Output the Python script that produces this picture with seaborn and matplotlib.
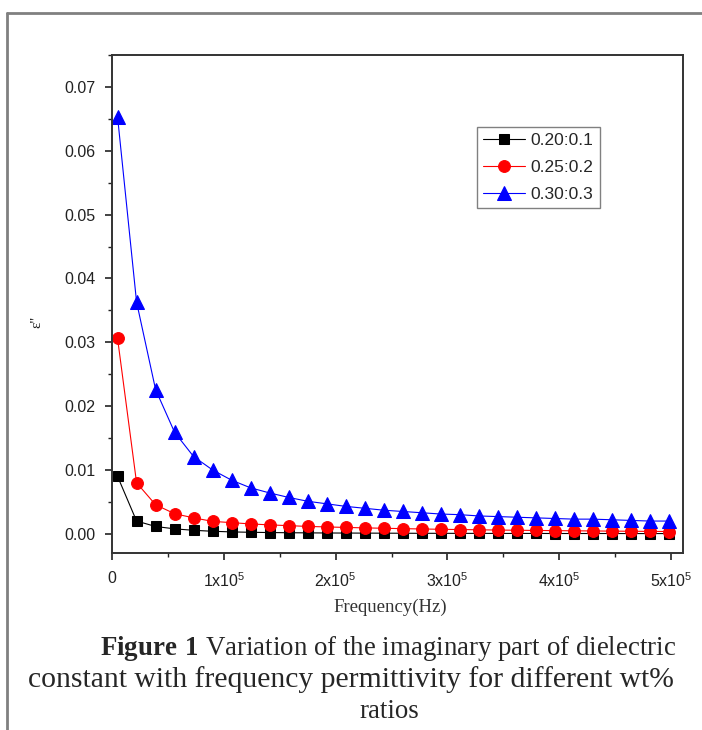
import pandas as pd
import matplotlib.pyplot as plt
import seaborn as sns
from matplotlib.lines import Line2D
from matplotlib.ticker import MultipleLocator

sns.set_style("ticks")
plt.rcParams['font.family'] = ['Liberation Sans', 'DejaVu Sans']
plt.rcParams['mathtext.fontset'] = 'custom'
plt.rcParams['mathtext.rm'] = 'Liberation Sans'
plt.rcParams['mathtext.bf'] = 'Liberation Serif:bold'

# 数据
freq = [5000, 22000, 39000, 56000, 73000, 90000, 107000, 124000, 141000, 158000,
        175000, 192000, 209000, 226000, 243000, 260000, 277000, 294000, 311000, 328000,
        345000, 362000, 379000, 396000, 413000, 430000, 447000, 464000, 481000, 498000]
eps_020 = [0.0090, 0.0020, 0.00115, 0.00078, 0.00055, 0.00040, 0.00030, 0.00024, 0.00020, 0.00017,
           0.00015, 0.00013, 0.00012, 0.00011, 0.00010, 0.00009, 0.00008, 0.00008, 0.00007, 0.00007,
           0.00006, 0.00006, 0.00006, 0.00005, 0.00005, 0.00005, 0.00005, 0.00004, 0.00004, 0.00004]
eps_025 = [0.0306, 0.0080, 0.00455, 0.00315, 0.00250, 0.00195, 0.00175, 0.00155, 0.00140, 0.00128,
           0.00116, 0.00108, 0.00100, 0.00093, 0.00087, 0.00081, 0.00076, 0.00071, 0.00067, 0.00063,
           0.00059, 0.00056, 0.00053, 0.00050, 0.00047, 0.00045, 0.00042, 0.00040, 0.00038, 0.00036]
eps_030 = [0.0653, 0.0363, 0.0226, 0.0159, 0.0121, 0.0100, 0.0084, 0.0072, 0.0064, 0.0057,
           0.0051, 0.0047, 0.0043, 0.0040, 0.0037, 0.0035, 0.0033, 0.0031, 0.0030, 0.0028,
           0.0027, 0.0026, 0.0025, 0.0024, 0.0023, 0.0023, 0.0022, 0.0021, 0.0020, 0.0020]
series_names = ['0.20:0.1', '0.25:0.2', '0.30:0.3']
x_ticks = [0, 100000, 200000, 300000, 400000, 500000]
x_tick_labels = ['0', '1x10$^{5}$', '2x10$^{5}$', '3x10$^{5}$', '4x10$^{5}$', '5x10$^{5}$']
y_ticks = [0.00, 0.01, 0.02, 0.03, 0.04, 0.05, 0.06, 0.07]
y_tick_labels = ['0.00', '0.01', '0.02', '0.03', '0.04', '0.05', '0.06', '0.07']

fig = plt.figure(figsize=(7.02, 7.30), dpi=100)
ax = fig.add_axes([0.1595, 0.2425, 0.8135, 0.6822])

# 绘制折线
styles = [('black', 's', 7.5), ('#ff0000', 'o', 8.5), ('#0000ff', '^', 9.5)]
for name, values, (color, marker, ms) in zip(series_names, [eps_020, eps_025, eps_030], styles):
    df = pd.DataFrame({'freq': freq, 'eps': values})
    sns.lineplot(data=df, x='freq', y='eps', ax=ax, color=color, marker=marker,
                 markersize=ms, markeredgecolor=color, linewidth=0.8, label=name)

ax.set_xlim(0, 510700)
ax.set_ylim(-0.003, 0.075)
ax.set_xticks(x_ticks)
ax.set_xticklabels(x_tick_labels)
ax.set_yticks(y_ticks)
ax.set_yticklabels(y_tick_labels)
ax.xaxis.set_minor_locator(MultipleLocator(50000))
ax.yaxis.set_minor_locator(MultipleLocator(0.005))
ax.tick_params(which='major', direction='out', length=5, width=1.2, color='#222222',
               labelsize=11.5, labelcolor='#222222')
ax.tick_params(axis='y', which='major', pad=7)
ax.tick_params(axis='x', which='major', pad=8)
ax.tick_params(which='minor', direction='out', length=3, width=1.0, color='#222222')
ax.tick_params(top=False, right=False, which='both')
for sp in ax.spines.values():
    sp.set_visible(True)
    sp.set_linewidth(1.4)
    sp.set_color('#333333')

ax.set_xlabel('Frequency(Hz)', family='Liberation Serif', fontsize=13.5, color='#333333')
ax.xaxis.set_label_coords(0.488, -0.092)
ax.set_ylabel("ε''", family='Liberation Serif', fontsize=11, color='#222222')
ax.yaxis.set_label_coords(-0.12, 0.464)

leg = ax.legend(loc='upper left', bbox_to_anchor=(0.639, 0.855), borderaxespad=0,
                fontsize=12.5, frameon=True, fancybox=False, framealpha=1,
                edgecolor='#808080', handlelength=2.4, handletextpad=0.35,
                labelspacing=0.68, borderpad=0.35)
leg.get_frame().set_linewidth(1.0)

# 外框
fig.add_artist(Line2D([0.01, 1.0], [0.982, 0.982], transform=fig.transFigure,
                      color='#808080', linewidth=2))
fig.add_artist(Line2D([0.01, 0.01], [0.0, 0.982], transform=fig.transFigure,
                      color='#808080', linewidth=2))

# 图注
fig.text(0.553, 0.1123, r'$\mathbf{Figure\ 1}$ Variation of the imaginary part of dielectric',
         family='Liberation Serif', fontsize=19.4, ha='center', va='center')
fig.text(0.500, 0.0685, 'constant with frequency permittivity for different wt%',
         family='Liberation Serif', fontsize=21.3, ha='center', va='center')
fig.text(0.555, 0.0247, 'ratios', family='Liberation Serif', fontsize=19.4,
         ha='center', va='center')

fig.savefig('out.png', dpi=100)
